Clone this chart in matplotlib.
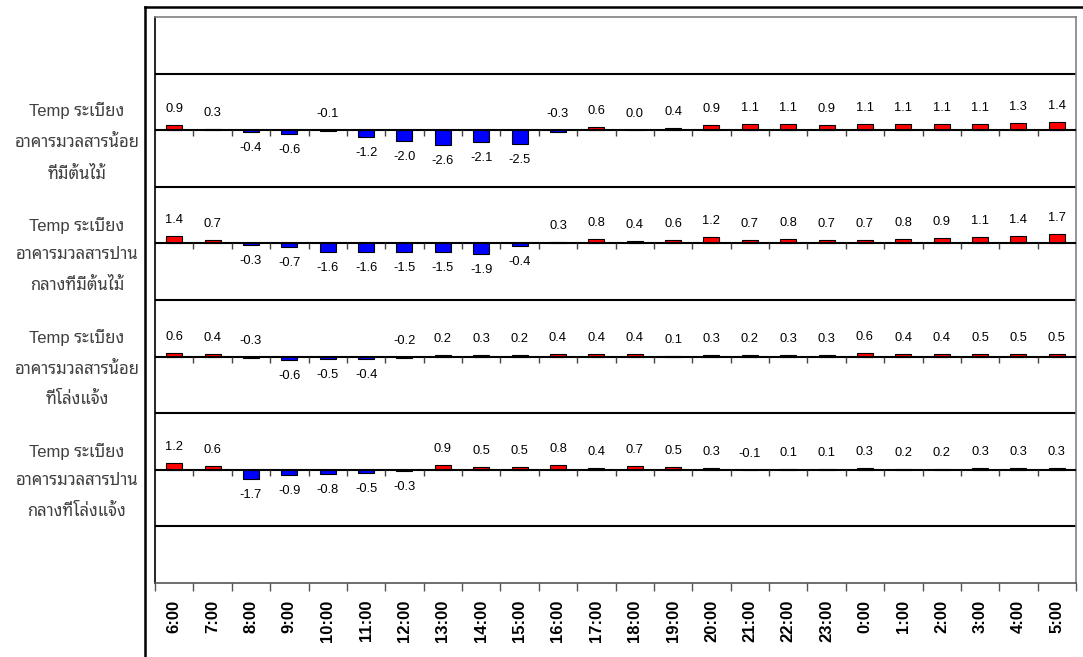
import matplotlib
matplotlib.use("Agg")
import matplotlib.pyplot as plt
from matplotlib.lines import Line2D
import numpy as np

# ---------------- data ----------------
hours = ["6:00", "7:00", "8:00", "9:00", "10:00", "11:00", "12:00", "13:00",
         "14:00", "15:00", "16:00", "17:00", "18:00", "19:00", "20:00", "21:00",
         "22:00", "23:00", "0:00", "1:00", "2:00", "3:00", "4:00", "5:00"]

series_names = [
    "Temp ระเบียง\nอาคารมวลสารน้อย\nที่มีต้นไม้",
    "Temp ระเบียง\nอาคารมวลสารปาน\nกลางที่มีต้นไม้",
    "Temp ระเบียง\nอาคารมวลสารน้อย\nที่โล่งแจ้ง",
    "Temp ระเบียง\nอาคารมวลสารปาน\nกลางที่โล่งแจ้ง",
]

s1 = [0.9, 0.3, -0.4, -0.6, -0.1, -1.2, -2.0, -2.6, -2.1, -2.5, -0.3, 0.6,
      0.0, 0.4, 0.9, 1.1, 1.1, 0.9, 1.1, 1.1, 1.1, 1.1, 1.3, 1.4]
s2 = [1.4, 0.7, -0.3, -0.7, -1.6, -1.6, -1.5, -1.5, -1.9, -0.4, 0.3, 0.8,
      0.4, 0.6, 1.2, 0.7, 0.8, 0.7, 0.7, 0.8, 0.9, 1.1, 1.4, 1.7]
s3 = [0.6, 0.4, -0.3, -0.6, -0.5, -0.4, -0.2, 0.2, 0.3, 0.2, 0.4, 0.4,
      0.4, 0.1, 0.3, 0.2, 0.3, 0.3, 0.6, 0.4, 0.4, 0.5, 0.5, 0.5]
s4 = [1.2, 0.6, -1.7, -0.9, -0.8, -0.5, -0.3, 0.9, 0.5, 0.5, 0.8, 0.4,
      0.7, 0.5, 0.3, -0.1, 0.1, 0.1, 0.3, 0.2, 0.2, 0.3, 0.3, 0.3]
series = [s1, s2, s3, s4]

# negative values whose label sits above the baseline (hour indices)
labels_above = [[4, 10], [], [2, 6], [15]]

# ---------------- layout ----------------
W, H = 1083, 657
fig = plt.figure(figsize=(W / 100, H / 100), dpi=100)
L, R, T, B = 155, 1076, 17, 583
ax = fig.add_axes([L / W, 1 - B / H, (R - L) / W, (B - T) / H])

px_per_unit = 5.5
band = 113 / px_per_unit
ax.set_xlim(-0.5, len(hours) - 0.5)
ax.set_ylim(0, 5 * band)

red, blue = "#FF0000", "#0000FF"
x = np.arange(len(hours))
tick_len = 6 / px_per_unit

# band separators
for k in range(5):
    ax.axhline((4.5 - k) * band, color="black", lw=1.5, zorder=2)

lab_font = dict(family=["Liberation Sans", "DejaVu Sans"], fontsize=9.3, color="black")
name_font = ["Liberation Sans", "Noto Sans Thai Looped", "Loma", "DejaVu Sans"]
for i, vals in enumerate(series):
    base = (4 - i) * band
    vals = np.array(vals)
    colors = [red if v > 0 else blue for v in vals]
    ax.bar(x, vals, width=0.42, bottom=base, color=colors, edgecolor="black",
           linewidth=0.8, zorder=3)
    ax.axhline(base, color="black", lw=1.5, zorder=4)
    ax.vlines(np.arange(1, len(hours)) - 0.5, base - tick_len, base,
              color="#444444", lw=1, zorder=4)
    for j, v in enumerate(vals):
        if v >= 0:
            ax.annotate(f"{v:.1f}", (j, base + v), xytext=(0, 16),
                        textcoords="offset pixels", ha="center", va="center", **lab_font)
        elif j in labels_above[i]:
            ax.annotate(f"{v:.1f}", (j, base), xytext=(0, 16),
                        textcoords="offset pixels", ha="center", va="center", **lab_font)
        else:
            ax.annotate(f"{v:.1f}", (j, base + v), xytext=(0, -16),
                        textcoords="offset pixels", ha="center", va="center", **lab_font)
    # series label at left
    base_px = (B - base * px_per_unit) + 11
    fig.text(77 / W, 1 - base_px / H, series_names[i], ha="center", va="center",
             ma="center", fontsize=12, color="#404040", linespacing=2.15,
             family=name_font)

# axes styling
ax.set_yticks([])
ax.set_xticks(x)
ax.set_xticklabels(hours, rotation=90, fontsize=12, fontweight="bold",
                   family=["Liberation Sans", "DejaVu Sans"], va="top")
ax.tick_params(axis="x", which="major", length=0, pad=12)
ax.set_xticks(np.arange(len(hours) + 1) - 0.5, minor=True)
ax.tick_params(axis="x", which="minor", length=6, color="#555555", width=1)
ax.spines["top"].set_color("#808080")
ax.spines["right"].set_color("#808080")
ax.spines["left"].set_color("#000000")
ax.spines["bottom"].set_color("#555555")
for s in ax.spines.values():
    s.set_linewidth(1.2)

# outer frame
fig.add_artist(Line2D([145 / W, 145 / W], [0, 1 - 7 / H], color="black", lw=1.8,
                      transform=fig.transFigure))
fig.add_artist(Line2D([145 / W, 1], [1 - 7 / H, 1 - 7 / H], color="black", lw=1.8,
                      transform=fig.transFigure))

fig.savefig("out.png", dpi=100)
